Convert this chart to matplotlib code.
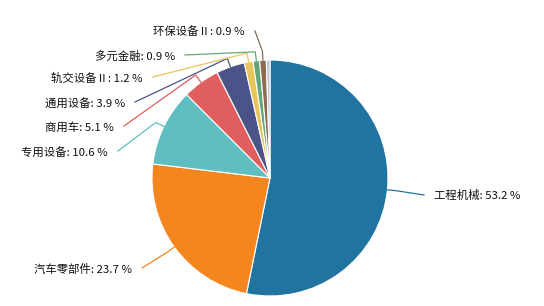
import numpy as np
import matplotlib.pyplot as plt

plt.rcParams['font.family'] = ['Noto Sans CJK SC', 'DejaVu Sans']

# 数据
names = ['工程机械', '汽车零部件', '专用设备', '商用车', '通用设备',
         '轨交设备Ⅱ', '多元金融', '环保设备Ⅱ', '其他']
shares = [53.2, 23.7, 10.6, 5.1, 3.9, 1.2, 0.9, 0.9, 0.5]
show_label = [True, True, True, True, True, True, True, True, False]

colors = ['#21749f', '#f5861f', '#5fbebf', '#e15e5e', '#4a5488',
          '#e8c559', '#65a57a', '#8b6c53', '#c0c8d0']

# 标签位置 (像素坐标, y 从上往下) 与对齐方式
label_pos = [(434, 196, 'left'), (132, 269, 'right'), (108, 152, 'right'),
             (114, 127, 'right'), (125, 103, 'right'), (143, 78, 'right'),
             (175, 56, 'right'), (245, 32, 'right'), None]
H = 306
cx, cy, R = 270, H - 178, 118

fig = plt.figure(figsize=(5.44, 3.06), dpi=100)
ax = fig.add_axes([0, 0, 1, 1])

wedges, _ = ax.pie(shares, colors=colors, startangle=90, counterclock=False,
                   center=(cx, cy), radius=R, frame=True,
                   wedgeprops=dict(edgecolor='white', linewidth=0.8))
ax.set_xlim(0, 544)
ax.set_ylim(0, H)
ax.set_aspect('equal')
ax.axis('off')

for w, name, val, show, pos, col in zip(wedges, names, shares, show_label, label_pos, colors):
    if not show:
        continue
    mid = np.deg2rad((w.theta1 + w.theta2) / 2)
    ax_, ay_ = cx + R * np.cos(mid), cy + R * np.sin(mid)
    bx, by = cx + (R + 9) * np.cos(mid), cy + (R + 9) * np.sin(mid)
    tx, ty, ha = pos
    ty = H - ty
    ex = tx - 10 if ha == 'left' else tx + 10
    ax.plot([ax_, bx, ex], [ay_, by, ty + 1], color=col, lw=0.9,
            solid_joinstyle='round')
    ax.text(tx, ty, f'{name}: {val} %', ha=ha, va='center',
            fontsize=8.2, color='#111111', fontweight='medium')

fig.savefig('out.png', dpi=100)
